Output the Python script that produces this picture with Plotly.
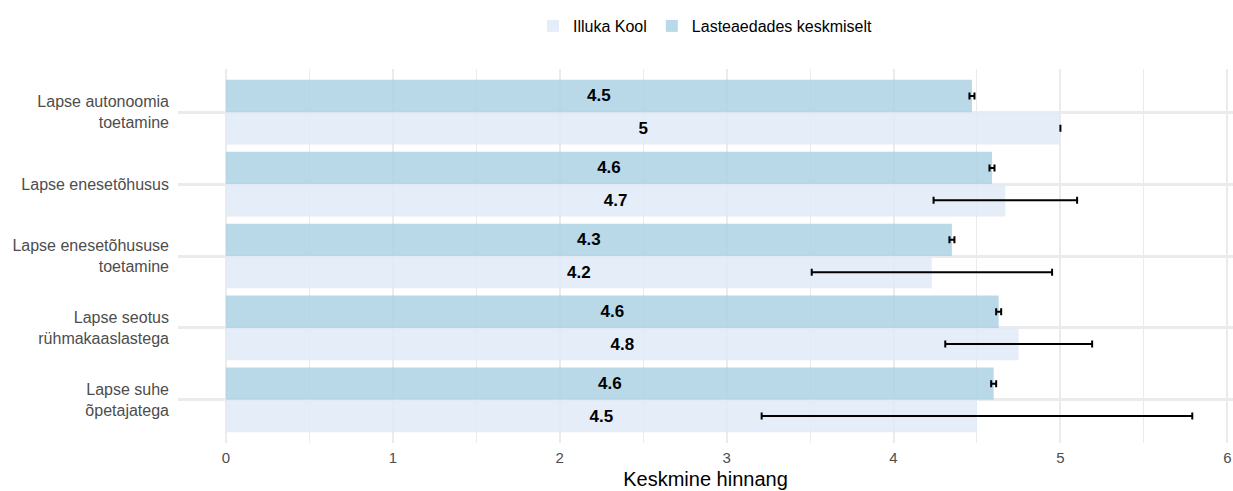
import plotly.graph_objects as go

categories = [
    "Lapse autonoomia<br>toetamine",
    "Lapse enesetõhusus",
    "Lapse enesetõhususe<br>toetamine",
    "Lapse seotus<br>rühmakaaslastega",
    "Lapse suhe<br>õpetajatega",
]
illuka_values = [5.0, 4.67, 4.23, 4.75, 4.50]
illuka_errors = [0.0, 0.43, 0.72, 0.44, 1.29]
lasteaed_values = [4.47, 4.59, 4.35, 4.63, 4.60]
lasteaed_errors = [0.015, 0.015, 0.015, 0.015, 0.015]

series_names = ["Illuka Kool", "Lasteaedades keskmiselt"]


def labels(vals):
    return [f"{round(v, 1):g}" for v in vals]


fig = go.Figure()
fig.add_trace(go.Bar(
    name=series_names[0], y=categories, x=illuka_values, orientation="h",
    marker=dict(color="rgba(224,235,247,0.85)", line=dict(width=0)),
    error_x=dict(type="data", array=illuka_errors, visible=True,
                 color="black", thickness=2, width=3.5),
    text=labels(illuka_values), textposition="inside",
    insidetextanchor="middle", textangle=0,
    textfont=dict(family="Arial, Liberation Sans", size=17, color="black", weight="bold"),
    hoverinfo="skip",
))
fig.add_trace(go.Bar(
    name=series_names[1], y=categories, x=lasteaed_values, orientation="h",
    marker=dict(color="rgba(173,210,229,0.85)", line=dict(width=0)),
    error_x=dict(type="data", array=lasteaed_errors, visible=True,
                 color="black", thickness=2, width=3.5),
    text=labels(lasteaed_values), textposition="inside",
    insidetextanchor="middle", textangle=0,
    textfont=dict(family="Arial, Liberation Sans", size=17, color="black", weight="bold"),
    hoverinfo="skip",
))

fig.update_layout(
    width=1233, height=491,
    margin=dict(l=178, r=0, t=69, b=48, autoexpand=False),
    paper_bgcolor="white", plot_bgcolor="white",
    barmode="group", bargap=0.1, bargroupgap=0,
    font=dict(family="Arial, Liberation Sans", color="black"),
    legend=dict(orientation="h", x=0.5, xanchor="center", y=1.115, yanchor="middle",
                font=dict(size=16, color="black"), traceorder="normal"),
    xaxis=dict(
        range=[-0.287, 6.034], dtick=1, tick0=0, automargin=False,
        showgrid=True, gridcolor="#ebebeb", gridwidth=2,
        minor=dict(dtick=0.5, showgrid=True, gridcolor="#ebebeb", gridwidth=1),
        zeroline=False, showline=False, ticks="",
        ticklabelstandoff=4,
        tickfont=dict(size=15, color="#4d4d4d"),
        title=dict(text="Keskmine hinnang", font=dict(size=20, color="black"), standoff=6),
    ),
    yaxis=dict(
        categoryorder="array", categoryarray=categories[::-1],
        range=[-0.6, 4.6], automargin=False,
        showgrid=True, gridcolor="#ebebeb", gridwidth=2.5,
        zeroline=False, showline=False, ticks="",
        ticklabelstandoff=8,
        tickfont=dict(size=16, color="#4d4d4d"),
    ),
)

fig.write_html(
    "out.html",
    config={"displayModeBar": False},
    post_script="document.body.style.margin='0';document.body.style.overflow='hidden';",
)
